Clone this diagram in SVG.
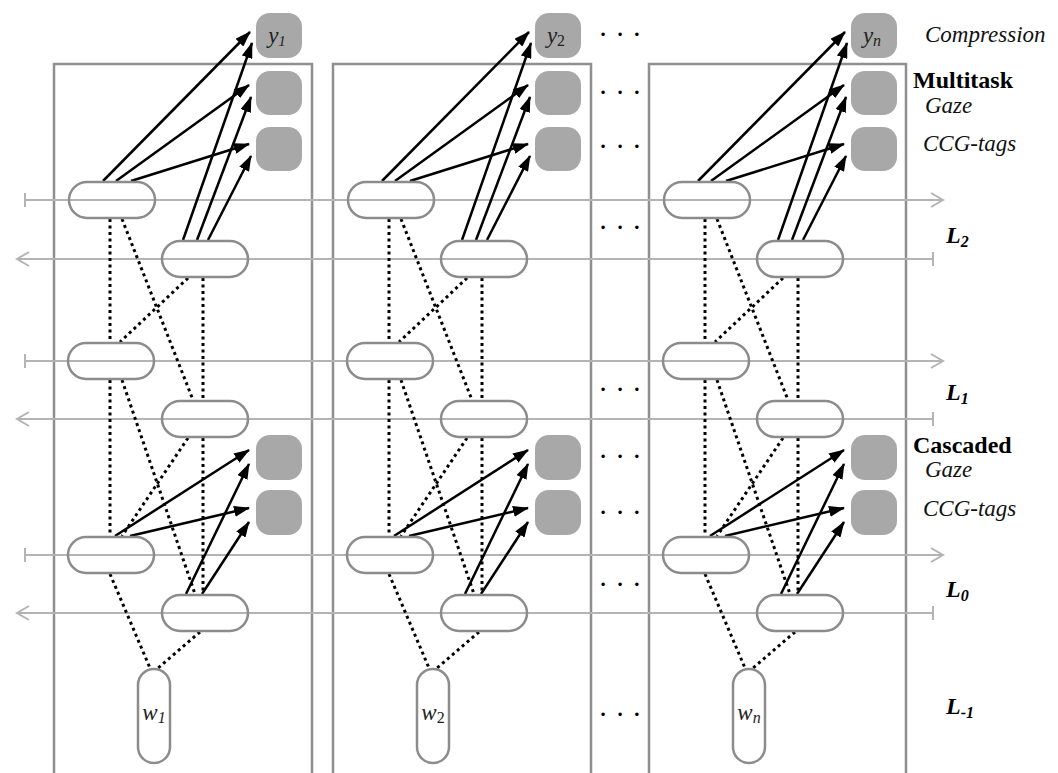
<svg xmlns="http://www.w3.org/2000/svg" width="1058" height="773" viewBox="0 0 1058 773">
<style>
.box{fill:none;stroke:#8f8f8f;stroke-width:2.5}
.rail{fill:none;stroke:#b4b4b4;stroke-width:2}
.hn{fill:none;stroke:#8c8c8c;stroke-width:2.5}
.on{fill:#a8a8a8}
.arr{stroke:#000;stroke-width:2.5;marker-end:url(#ah)}
.dot{stroke:#000;stroke-width:3;stroke-dasharray:3 3.5;fill:none}
.it{font-family:"Liberation Serif","Times New Roman",serif;font-style:italic;fill:#111}
.bd{font-family:"Liberation Serif","Times New Roman",serif;font-weight:bold;fill:#000}
.lb{font-family:"Liberation Serif","Times New Roman",serif;font-weight:bold;font-style:italic;fill:#000;font-size:24px}
.el{font-family:"Liberation Serif","Times New Roman",serif;font-size:29px;fill:#000;text-anchor:middle}
.nl{font-family:"Liberation Serif","Times New Roman",serif;font-style:italic;fill:#222;font-size:23px;text-anchor:middle}
</style>
<defs>
<marker id="ah" viewBox="0 0 16 11" refX="15" refY="5.5" markerWidth="16" markerHeight="11" markerUnits="userSpaceOnUse" orient="auto">
<path d="M0,0 L16,5.5 L0,11 z" fill="#000"/>
</marker>
</defs>
<rect width="1058" height="773" fill="#fff"/>

<g id="columns">
<path class="box" d="M54,773 V64 H312 V773"/>
<path class="box" d="M333,773 V64 H591 V773"/>
<path class="box" d="M649,773 V64 H906 V773"/>
</g>

<g id="rails">
<path class="rail" d="M25,200 H943 M25,193 V207 M931,193 L943,200 L931,207"/>
<path class="rail" d="M17,259 H933 M933,252 V266 M29,252 L17,259 L29,266"/>
<path class="rail" d="M25,361 H943 M25,354 V368 M931,354 L943,361 L931,368"/>
<path class="rail" d="M17,419 H933 M933,412 V426 M29,412 L17,419 L29,426"/>
<path class="rail" d="M25,555 H943 M25,548 V562 M931,548 L943,555 L931,562"/>
<path class="rail" d="M17,613 H933 M933,606 V620 M29,606 L17,613 L29,620"/>
</g>

<g id="connectors">
<g id="conn-col1">
<line class="arr" x1="103" y1="181" x2="250" y2="32"/>
<line class="arr" x1="116" y1="181" x2="249" y2="85"/>
<line class="arr" x1="131" y1="181" x2="249" y2="144"/>
<line class="arr" x1="183" y1="240" x2="252" y2="43"/>
<line class="arr" x1="197" y1="240" x2="251" y2="97"/>
<line class="arr" x1="208" y1="240" x2="251" y2="156"/>
<line class="arr" x1="115" y1="536" x2="249" y2="450"/>
<line class="arr" x1="130" y1="536" x2="249" y2="508"/>
<line class="arr" x1="186" y1="594" x2="249" y2="464"/>
<line class="arr" x1="202" y1="594" x2="249" y2="522"/>
<line class="dot" x1="110" y1="219" x2="110" y2="342"/>
<line class="dot" x1="122" y1="219" x2="193" y2="400"/>
<line class="dot" x1="203" y1="278" x2="203" y2="400"/>
<line class="dot" x1="188" y1="278" x2="120" y2="342"/>
<line class="dot" x1="110" y1="380" x2="110" y2="536"/>
<line class="dot" x1="122" y1="380" x2="195" y2="594"/>
<line class="dot" x1="203" y1="438" x2="203" y2="594"/>
<line class="dot" x1="188" y1="438" x2="122" y2="536"/>
<line class="dot" x1="110" y1="574" x2="150" y2="668"/>
<line class="dot" x1="200" y1="632" x2="158" y2="668"/>
</g>
<g id="conn-col2" transform="translate(279,0)">
<line class="arr" x1="103" y1="181" x2="250" y2="32"/>
<line class="arr" x1="116" y1="181" x2="249" y2="85"/>
<line class="arr" x1="131" y1="181" x2="249" y2="144"/>
<line class="arr" x1="183" y1="240" x2="252" y2="43"/>
<line class="arr" x1="197" y1="240" x2="251" y2="97"/>
<line class="arr" x1="208" y1="240" x2="251" y2="156"/>
<line class="arr" x1="115" y1="536" x2="249" y2="450"/>
<line class="arr" x1="130" y1="536" x2="249" y2="508"/>
<line class="arr" x1="186" y1="594" x2="249" y2="464"/>
<line class="arr" x1="202" y1="594" x2="249" y2="522"/>
<line class="dot" x1="110" y1="219" x2="110" y2="342"/>
<line class="dot" x1="122" y1="219" x2="193" y2="400"/>
<line class="dot" x1="203" y1="278" x2="203" y2="400"/>
<line class="dot" x1="188" y1="278" x2="120" y2="342"/>
<line class="dot" x1="110" y1="380" x2="110" y2="536"/>
<line class="dot" x1="122" y1="380" x2="195" y2="594"/>
<line class="dot" x1="203" y1="438" x2="203" y2="594"/>
<line class="dot" x1="188" y1="438" x2="122" y2="536"/>
<line class="dot" x1="110" y1="574" x2="150" y2="668"/>
<line class="dot" x1="200" y1="632" x2="158" y2="668"/>
</g>
<g id="conn-col3" transform="translate(595,0)">
<line class="arr" x1="103" y1="181" x2="250" y2="32"/>
<line class="arr" x1="116" y1="181" x2="249" y2="85"/>
<line class="arr" x1="131" y1="181" x2="249" y2="144"/>
<line class="arr" x1="183" y1="240" x2="252" y2="43"/>
<line class="arr" x1="197" y1="240" x2="251" y2="97"/>
<line class="arr" x1="208" y1="240" x2="251" y2="156"/>
<line class="arr" x1="115" y1="536" x2="249" y2="450"/>
<line class="arr" x1="130" y1="536" x2="249" y2="508"/>
<line class="arr" x1="186" y1="594" x2="249" y2="464"/>
<line class="arr" x1="202" y1="594" x2="249" y2="522"/>
<line class="dot" x1="110" y1="219" x2="110" y2="342"/>
<line class="dot" x1="122" y1="219" x2="193" y2="400"/>
<line class="dot" x1="203" y1="278" x2="203" y2="400"/>
<line class="dot" x1="188" y1="278" x2="120" y2="342"/>
<line class="dot" x1="110" y1="380" x2="110" y2="536"/>
<line class="dot" x1="122" y1="380" x2="195" y2="594"/>
<line class="dot" x1="203" y1="438" x2="203" y2="594"/>
<line class="dot" x1="188" y1="438" x2="122" y2="536"/>
<line class="dot" x1="110" y1="574" x2="150" y2="668"/>
<line class="dot" x1="200" y1="632" x2="158" y2="668"/>
</g>
</g>

<!-- Column 1 nodes -->
<g id="y1"><rect class="on" x="256" y="13" width="46" height="45" rx="14"/><text class="nl" x="277" y="43">y<tspan font-size="15" dy="3">1</tspan></text></g>
<g id="gaze-m1"><rect class="on" x="256" y="71" width="46" height="44" rx="14"/></g>
<g id="ccg-m1"><rect class="on" x="256" y="127" width="46" height="44" rx="14"/></g>
<g id="h2f-1"><rect class="hn" x="69" y="182" width="86" height="36" rx="18"/></g>
<g id="h2b-1"><rect class="hn" x="162" y="241" width="86" height="36" rx="18"/></g>
<g id="h1f-1"><rect class="hn" x="68" y="343" width="86" height="36" rx="18"/></g>
<g id="h1b-1"><rect class="hn" x="162" y="401" width="86" height="36" rx="18"/></g>
<g id="gaze-c1"><rect class="on" x="256" y="435" width="46" height="45" rx="14"/></g>
<g id="ccg-c1"><rect class="on" x="256" y="490" width="46" height="45" rx="14"/></g>
<g id="h0f-1"><rect class="hn" x="68" y="537" width="86" height="36" rx="18"/></g>
<g id="h0b-1"><rect class="hn" x="162" y="595" width="86" height="36" rx="18"/></g>
<g id="w1"><rect class="hn" x="138" y="669" width="32" height="94" rx="16"/><text class="nl" x="154" y="720" font-size="24">w<tspan font-size="16" dy="3">1</tspan></text></g>

<!-- Column 2 nodes -->
<g id="y2" transform="translate(279,0)"><rect class="on" x="256" y="13" width="46" height="45" rx="14"/><text class="nl" x="277" y="43">y<tspan font-size="16" font-style="normal" dy="3">2</tspan></text></g>
<g id="gaze-m2" transform="translate(279,0)"><rect class="on" x="256" y="71" width="46" height="44" rx="14"/></g>
<g id="ccg-m2" transform="translate(279,0)"><rect class="on" x="256" y="127" width="46" height="44" rx="14"/></g>
<g id="h2f-2" transform="translate(279,0)"><rect class="hn" x="69" y="182" width="86" height="36" rx="18"/></g>
<g id="h2b-2" transform="translate(279,0)"><rect class="hn" x="162" y="241" width="86" height="36" rx="18"/></g>
<g id="h1f-2" transform="translate(279,0)"><rect class="hn" x="68" y="343" width="86" height="36" rx="18"/></g>
<g id="h1b-2" transform="translate(279,0)"><rect class="hn" x="162" y="401" width="86" height="36" rx="18"/></g>
<g id="gaze-c2" transform="translate(279,0)"><rect class="on" x="256" y="435" width="46" height="45" rx="14"/></g>
<g id="ccg-c2" transform="translate(279,0)"><rect class="on" x="256" y="490" width="46" height="45" rx="14"/></g>
<g id="h0f-2" transform="translate(279,0)"><rect class="hn" x="68" y="537" width="86" height="36" rx="18"/></g>
<g id="h0b-2" transform="translate(279,0)"><rect class="hn" x="162" y="595" width="86" height="36" rx="18"/></g>
<g id="w2" transform="translate(279,0)"><rect class="hn" x="138" y="669" width="32" height="94" rx="16"/><text class="nl" x="154" y="720" font-size="24">w<tspan font-size="16" font-style="normal" dy="3">2</tspan></text></g>

<!-- Column n nodes -->
<g id="yn" transform="translate(595,0)"><rect class="on" x="256" y="13" width="46" height="45" rx="14"/><text class="nl" x="277" y="43">y<tspan font-size="16" dy="3">n</tspan></text></g>
<g id="gaze-mn" transform="translate(595,0)"><rect class="on" x="256" y="71" width="46" height="44" rx="14"/></g>
<g id="ccg-mn" transform="translate(595,0)"><rect class="on" x="256" y="127" width="46" height="44" rx="14"/></g>
<g id="h2f-n" transform="translate(595,0)"><rect class="hn" x="69" y="182" width="86" height="36" rx="18"/></g>
<g id="h2b-n" transform="translate(595,0)"><rect class="hn" x="162" y="241" width="86" height="36" rx="18"/></g>
<g id="h1f-n" transform="translate(595,0)"><rect class="hn" x="68" y="343" width="86" height="36" rx="18"/></g>
<g id="h1b-n" transform="translate(595,0)"><rect class="hn" x="162" y="401" width="86" height="36" rx="18"/></g>
<g id="gaze-cn" transform="translate(595,0)"><rect class="on" x="256" y="435" width="46" height="45" rx="14"/></g>
<g id="ccg-cn" transform="translate(595,0)"><rect class="on" x="256" y="490" width="46" height="45" rx="14"/></g>
<g id="h0f-n" transform="translate(595,0)"><rect class="hn" x="68" y="537" width="86" height="36" rx="18"/></g>
<g id="h0b-n" transform="translate(595,0)"><rect class="hn" x="162" y="595" width="86" height="36" rx="18"/></g>
<g id="wn" transform="translate(595,0)"><rect class="hn" x="138" y="669" width="32" height="94" rx="16"/><text class="nl" x="154" y="720" font-size="24">w<tspan font-size="16" dy="3">n</tspan></text></g>

<g id="ellipses">
<text class="el" x="620" y="44">· · ·</text>
<text class="el" x="620" y="102">· · ·</text>
<text class="el" x="620" y="156">· · ·</text>
<text class="el" x="620" y="237">· · ·</text>
<text class="el" x="620" y="399">· · ·</text>
<text class="el" x="620" y="466">· · ·</text>
<text class="el" x="620" y="522">· · ·</text>
<text class="el" x="620" y="594">· · ·</text>
<text class="el" x="620" y="724">· · ·</text>
</g>

<g id="labels">
<text class="it" x="925" y="42" font-size="23">Compression</text>
<text class="bd" x="913" y="88" font-size="24">Multitask</text>
<text class="it" x="925" y="113" font-size="23">Gaze</text>
<text class="it" x="923" y="151" font-size="23">CCG-tags</text>
<text class="lb" x="946" y="243">L<tspan font-size="16" dy="4">2</tspan></text>
<text class="lb" x="946" y="400">L<tspan font-size="16" dy="4">1</tspan></text>
<text class="bd" x="913" y="453" font-size="24">Cascaded</text>
<text class="it" x="925" y="477" font-size="23">Gaze</text>
<text class="it" x="923" y="516" font-size="23">CCG-tags</text>
<text class="lb" x="946" y="597">L<tspan font-size="16" dy="4">0</tspan></text>
<text class="lb" x="946" y="714">L<tspan font-size="16" dy="4">-1</tspan></text>
</g>
</svg>
